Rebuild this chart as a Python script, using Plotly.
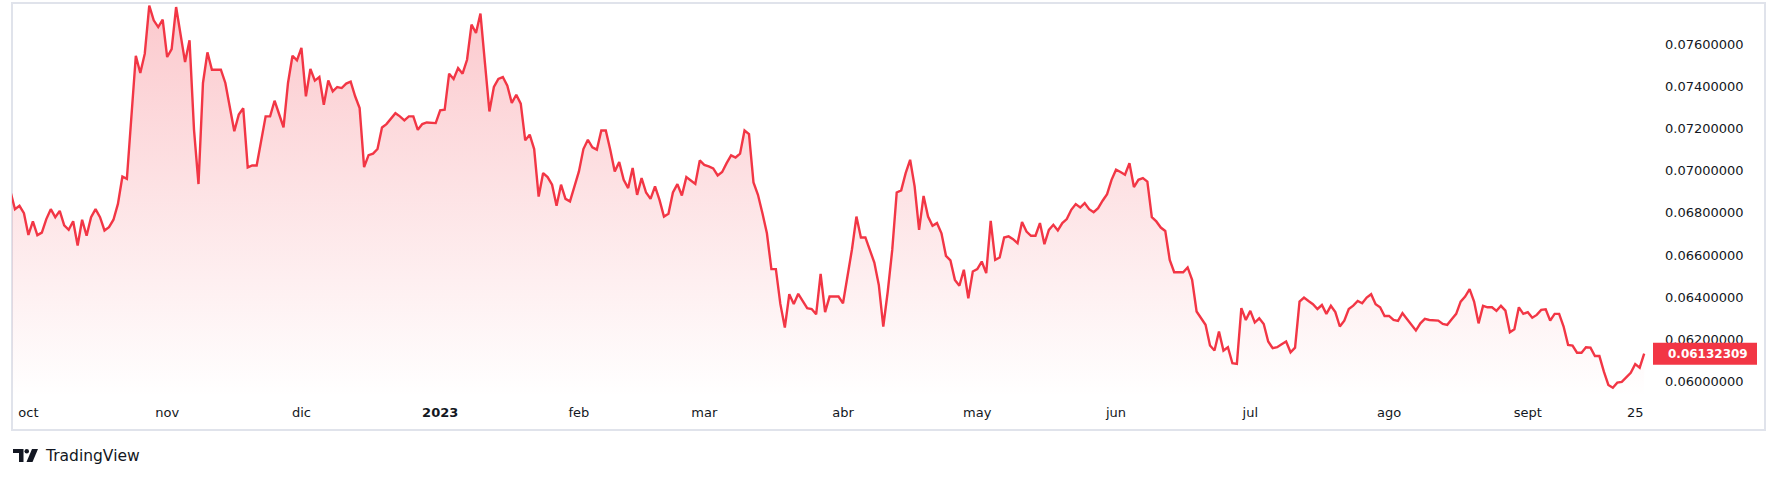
import pandas as pd
import plotly.graph_objects as go

# ---- data ----
start_date = "2022-09-27"
prices = [
    0.06900,
    0.06817, 0.06833, 0.06798, 0.06695, 0.06759, 0.06694, 0.06706, 0.06770, 0.06817, 0.06779,
    0.06809, 0.06740, 0.06719, 0.06760, 0.06645, 0.06767, 0.06691, 0.06779, 0.06817, 0.06779,
    0.06716, 0.06732, 0.06767, 0.06842, 0.06972, 0.06961, 0.07257, 0.07544, 0.07462, 0.07554,
    0.07782, 0.07712, 0.07680, 0.07715, 0.07538, 0.07576, 0.07775, 0.07644, 0.07514, 0.07617,
    0.07193, 0.06936, 0.07415, 0.07560, 0.07478, 0.07478, 0.07478, 0.07415, 0.07304, 0.07186,
    0.07265, 0.07295, 0.07015, 0.07024, 0.07024, 0.07138, 0.07257, 0.07257, 0.07331, 0.07268,
    0.07205, 0.07415, 0.07544, 0.07522, 0.07581, 0.07352, 0.07481, 0.07426, 0.07443, 0.07312,
    0.07427, 0.07375, 0.07396, 0.07391, 0.07412, 0.07421, 0.07352, 0.07296, 0.07016, 0.07073,
    0.07080, 0.07102, 0.07204, 0.07220, 0.07244, 0.07272, 0.07257, 0.07238, 0.07257, 0.07257,
    0.07193, 0.07220, 0.07228, 0.07228, 0.07225, 0.07285, 0.07288, 0.07459, 0.07434, 0.07486,
    0.07459, 0.07525, 0.07692, 0.07652, 0.07744, 0.07510, 0.07280, 0.07396, 0.07434, 0.07443,
    0.07402, 0.07320, 0.07359, 0.07317, 0.07143, 0.07170, 0.07102, 0.06877, 0.06988, 0.06969,
    0.06933, 0.06833, 0.06933, 0.06866, 0.06854, 0.06925, 0.06996, 0.07102, 0.07146, 0.07110,
    0.07099, 0.07190, 0.07190, 0.07099, 0.06996, 0.07040, 0.06956, 0.06917, 0.07012, 0.06885,
    0.06964, 0.06896, 0.06866, 0.06925, 0.06861, 0.06782, 0.06795, 0.06896, 0.06936, 0.06882,
    0.06969, 0.06953, 0.06937, 0.07048, 0.07027, 0.07020, 0.07010, 0.06977, 0.06993, 0.07035,
    0.07072, 0.07062, 0.07080, 0.07190, 0.07173, 0.06944, 0.06885, 0.06798, 0.06703, 0.06533,
    0.06533, 0.06368, 0.06256, 0.06414, 0.06368, 0.06416, 0.06379, 0.06348, 0.06344, 0.06319,
    0.06510, 0.06329, 0.06403, 0.06403, 0.06403, 0.06371, 0.06500, 0.06626, 0.06782, 0.06683,
    0.06683, 0.06624, 0.06564, 0.06458, 0.06261, 0.06427, 0.06624, 0.06896, 0.06906, 0.06988,
    0.07051, 0.06925, 0.06719, 0.06880, 0.06782, 0.06738, 0.06751, 0.06703, 0.06596, 0.06574,
    0.06482, 0.06454, 0.06530, 0.06395, 0.06522, 0.06533, 0.06569, 0.06514, 0.06762, 0.06577,
    0.06588, 0.06683, 0.06688, 0.06675, 0.06656, 0.06756, 0.06711, 0.06691, 0.06691, 0.06751,
    0.06651, 0.06719, 0.06743, 0.06716, 0.06751, 0.06770, 0.06814, 0.06841, 0.06825, 0.06846,
    0.06817, 0.06803, 0.06822, 0.06857, 0.06888, 0.06956, 0.07004, 0.06993, 0.06980, 0.07035,
    0.06922, 0.06956, 0.06964, 0.06948, 0.06779, 0.06759, 0.06730, 0.06714, 0.06577, 0.06518,
    0.06518, 0.06518, 0.06541, 0.06482, 0.06332, 0.06300, 0.06269, 0.06171, 0.06147, 0.06237,
    0.06147, 0.06163, 0.06087, 0.06084, 0.06348, 0.06292, 0.06335, 0.06280, 0.06300, 0.06273,
    0.06190, 0.06158, 0.06163, 0.06177, 0.06190, 0.06139, 0.06161, 0.06379, 0.06398, 0.06382,
    0.06367, 0.06344, 0.06363, 0.06321, 0.06359, 0.06329, 0.06261, 0.06289, 0.06344, 0.06360,
    0.06382, 0.06371, 0.06398, 0.06414, 0.06367, 0.06352, 0.06311, 0.06311, 0.06292, 0.06288,
    0.06324, 0.06297, 0.06269, 0.06242, 0.06276, 0.06297, 0.06292, 0.06292, 0.06289, 0.06273,
    0.06269, 0.06295, 0.06321, 0.06379, 0.06403, 0.06438, 0.06379, 0.06276, 0.06359, 0.06352,
    0.06352, 0.06335, 0.06359, 0.06336, 0.06234, 0.06248, 0.06352, 0.06321, 0.06329, 0.06303,
    0.06316, 0.06340, 0.06343, 0.06289, 0.06321, 0.06321, 0.06261, 0.06174, 0.06171, 0.06137,
    0.06137, 0.06163, 0.06161, 0.06121, 0.06121, 0.06047, 0.05984, 0.05971, 0.05995, 0.05999,
    0.06023, 0.06042, 0.06083, 0.06066, 0.06132309,
]
last_price = 0.06132309

tick_dates = ["2022-10-01", "2022-11-01", "2022-12-01", "2023-01-01", "2023-02-01",
              "2023-03-01", "2023-04-01", "2023-05-01", "2023-06-01", "2023-07-01",
              "2023-08-01", "2023-09-01", "2023-09-25"]
tick_labels = ["oct", "nov", "dic", "<b>2023</b>", "feb", "mar", "abr", "may",
               "jun", "jul", "ago", "sept", "25"]
price_ticks = [0.060, 0.062, 0.064, 0.066, 0.068, 0.070, 0.072, 0.074, 0.076]
price_labels = ["%.8f" % v for v in price_ticks]

dates = pd.date_range(start_date, periods=len(prices), freq="D")

# ---- layout geometry (pixels) ----
W, H = 1778, 478
L, R, T, B = 12, 126, 3, 81
PW, PH = W - L - R, H - T - B
Y_RANGE = [0.05927, 0.07794]
RED = "#F23645"
TXT = "#131722"


def px(x):
    return (x - L) / PW


def py(y):
    return (H - B - y) / PH


fig = go.Figure()
fig.add_trace(go.Scatter(
    x=dates, y=prices, mode="lines",
    line=dict(color=RED, width=2.4),
    fill="tozeroy",
    fillgradient=dict(type="vertical", start=Y_RANGE[0], stop=Y_RANGE[1],
                      colorscale=[[0, "rgba(242,54,69,0.0)"], [1, "rgba(242,54,69,0.27)"]]),
    hoverinfo="skip", showlegend=False,
))

shapes = [
    # outer frame
    dict(type="rect", xref="paper", yref="paper", x0=px(12), x1=px(1765), y0=py(430), y1=py(3),
         line=dict(color="#e0e3eb", width=2), fillcolor="rgba(0,0,0,0)", layer="below"),
    # last price badge
    dict(type="rect", xref="paper", x0=px(1653), x1=px(1757),
         yref="y", ysizemode="pixel", yanchor=last_price, y0=-11, y1=11,
         fillcolor=RED, line=dict(width=0), layer="above"),
    # TradingView logo mark
    dict(type="path", xref="paper", yref="paper",
         path="M %f,%f L %f,%f L %f,%f L %f,%f L %f,%f L %f,%f Z" % (
             px(13), py(449), px(23.5), py(449), px(23.5), py(462),
             px(19), py(462), px(19), py(453), px(13), py(453)),
         fillcolor=TXT, line=dict(width=0)),
    dict(type="circle", xref="paper", yref="paper",
         x0=px(24.5), x1=px(29), y0=py(453.5), y1=py(449),
         fillcolor=TXT, line=dict(width=0)),
    dict(type="path", xref="paper", yref="paper",
         path="M %f,%f L %f,%f L %f,%f L %f,%f Z" % (
             px(32), py(449), px(38), py(449), px(32.5), py(462), px(26.5), py(462)),
         fillcolor=TXT, line=dict(width=0)),
]

annotations = [
    dict(x=1, xref="paper", xanchor="left", xshift=14, y=last_price, yref="y",
         yanchor="middle", text="<b>%.8f</b>" % last_price, showarrow=False,
         font=dict(family="DejaVu Sans", size=12, color="white")),
    dict(x=px(43), xref="paper", xanchor="left", y=py(456), yref="paper", yanchor="middle",
         text="TradingView", showarrow=False,
         font=dict(family="DejaVu Sans", size=15.5, color=TXT)),
]

fig.update_layout(
    width=W, height=H,
    margin=dict(l=L, r=R, t=T, b=B),
    paper_bgcolor="white", plot_bgcolor="white",
    shapes=shapes, annotations=annotations,
    showlegend=False,
    xaxis=dict(
        type="date", range=["2022-09-27 08:00", "2023-09-28 18:00"],
        tickmode="array", tickvals=tick_dates, ticktext=tick_labels,
        showgrid=False, zeroline=False, showline=False, ticks="",
        tickfont=dict(family="DejaVu Sans", size=13, color=TXT),
        ticklabelstandoff=6,
    ),
    yaxis=dict(
        side="right", range=Y_RANGE,
        tickmode="array", tickvals=price_ticks, ticktext=price_labels,
        showgrid=False, zeroline=False, showline=False, ticks="",
        tickfont=dict(family="DejaVu Sans", size=13, color=TXT),
        ticklabelstandoff=12,
    ),
)

fig.write_html("out.html", config={"displayModeBar": False},
               post_script="document.body.style.margin='0';")
